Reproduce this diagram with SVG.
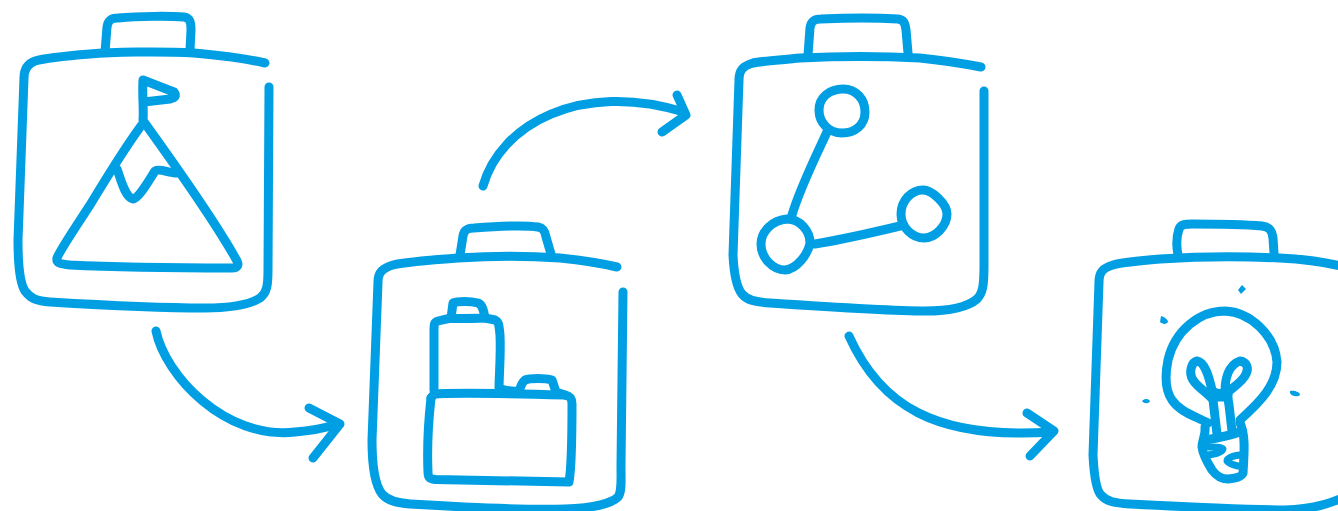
<svg xmlns="http://www.w3.org/2000/svg" width="1338" height="511" viewBox="0 0 1338 511">
<style>
.s{fill:none;stroke:#009fe3;stroke-width:9;stroke-linecap:round;stroke-linejoin:round}
.t{stroke-width:7}
.d{fill:#009fe3;stroke:none}
</style>
<rect width="1338" height="511" fill="#fff"/>
<g id="node-goal" class="s">
<path d="M265,63C240,57 215,55 194,53C160,51 110,52 90,54C65,56 45,58 35,61C27,64 24,70 24,78L18,240C18,262 19,282 25,291C31,299 37,301 50,302C100,305 170,308 205,308C235,308 252,303 260,298C267,293 268,285 268,270L269,87"/>
<path d="M105,52L107,27C108,20 111,18 118,18C140,16 170,16 184,17C190,18 191,22 191,30L190,50"/>
<path d="M144,122C130,140 110,172 90,205C75,228 60,250 57,258C56,263 60,264 70,265C110,267 190,268 232,268C238,268 239,265 237,261C220,230 175,165 144,122Z"/>
<path d="M143,120C144,110 142,95 143,80L174,92C177,96 175,98 170,99L144,102"/>
<path d="M117,169C121,180 125,197 133,199C139,198 148,182 155,171C160,168 168,173 177,173"/>
</g>
<g id="node-parts" class="s">
<path d="M617,267C600,263 580,260 560,258C530,256 490,256 458,258C430,260 405,262 393,265C383,268 378,272 378,282L372,440C372,465 375,485 382,494C388,501 397,503 410,504C460,507 530,510 565,509C595,508 612,503 618,497C622,492 621,480 621,465L623,292"/>
<path d="M460,255L463,236C464,230 467,228 474,228C500,226 525,225 538,227C543,228 545,231 546,237L551,254"/>
<path d="M434,390L434,332C434,324 434,322 438,321L451,318L453,303C458,301 470,301 478,303C483,305 484,312 485,318L495,320C499,322 499,325 500,335C501,355 499,375 499,390"/>
<path d="M451,318.500C462,318.500 475,318.500 485,318"/>
<path d="M431,398C428,425 427,450 428,472C428,478 430,479 436,479.500L569,482C572,465 572,430 572,404C572,398 570,396 565,395L556,392L552,380C545,378 530,378 525,380C521,383 521,387 519,391C512,392 508,391 501,389"/>
<path d="M431,398C433,394 436,393.500 445,393.500C480,393 530,394 565,395"/>
</g>
<g id="node-graph" class="s">
<path d="M981,67C960,63 940,60 920,58C880,56 840,56 800,58C780,60 762,61 753,63C743,66 739,70 739,80L733,255C734,275 737,288 742,294C747,300 755,302 770,303C830,307 900,311 925,311C955,311 970,305 977,299C983,293 984,285 984,265L984,91"/>
<path d="M808,55L810,28C811,21 814,19 821,19C845,18 880,18 898,19C904,20 905,23 906,30L908,53"/>
<path d="M819,110C819,97 830,89 843,89C856,89 865,99 865,112C865,125 855,133 842,133C829,133 819,123 819,110Z"/>
<path d="M761,244C761,231 773,220 787,219C800,219 810,231 810,243C808,254 797,269 785,270C773,270 761,258 761,244Z"/>
<path d="M901,214C901,201 911,190 923,190C932,190 947,204 947,214C947,226 935,238 924,238C912,238 901,227 901,214Z"/>
<path d="M827,132C815,158 800,188 792,215"/>
<path d="M815,244C845,239 875,232 900,226"/>
</g>
<g id="node-idea" class="s">
<path d="M1345,267C1325,262 1300,259 1280,258C1240,256 1190,257 1160,259C1135,261 1120,263 1113,265C1103,268 1099,272 1099,282L1093,455C1094,475 1096,490 1101,495C1107,502 1115,503 1130,504C1190,507 1260,510 1285,510C1315,509 1330,503 1345,497"/>
<path d="M1178,255C1176,245 1177,235 1179,229C1181,224 1186,224 1192,224C1215,224 1250,225 1262,226C1270,227 1272,231 1273,238L1274,253"/>
<path d="M1208,423C1195,416 1180,412 1172,400C1165,390 1165,375 1168,360C1175,330 1200,311 1225,311C1250,312 1275,335 1277,362C1277,385 1260,402 1240,420"/>
<path d="M1205,427C1206,435 1202,440 1202,447C1203,455 1207,462 1212,470C1217,477 1222,479 1228,479C1235,478 1242,477 1243,473C1244,455 1246,435 1240,423"/>
<path d="M1205,440C1218,438 1230,436 1242,431"/>
<path d="M1209,447C1215,447 1222,447 1223,449C1222,453 1214,454 1207,455" class="t"/>
<path d="M1240,455C1232,456 1227,458 1227,461C1229,464 1234,465 1238,466" class="t"/>
<path d="M1217,434L1213,400C1208,393 1198,388 1193,380C1188,372 1192,362 1197,361C1205,362 1209,377 1212,390C1214,393 1220,395 1225,392C1225,380 1228,365 1240,361C1247,362 1249,368 1246,374C1243,381 1235,386 1229,391C1227,395 1228,400 1229,405L1232,431"/>
<path d="M1213,398L1228,398" class="t"/>
<path class="d" d="M1242,285L1246,289L1241,294L1238,290Z"/>
<path class="d" d="M1161,316C1165,317 1168,320 1168,322C1166,325 1162,324 1160,322Z"/>
<path class="d" d="M1142,401C1145,398 1149,399 1150,401C1149,404 1144,404 1142,401Z"/>
<path class="d" d="M1290,391C1294,390 1300,392 1300,395C1298,397 1292,397 1290,393Z"/>
</g>
<g id="connectors" class="s">
<path d="M156,331C165,375 225,440 295,432C310,431 325,428 338,424"/>
<path d="M309,408L340,424L313,458"/>
<path d="M483,186C500,125 580,80 684,112"/>
<path d="M677,95L686,115L662,132"/>
<path d="M849,336C880,405 935,440 1052,432"/>
<path d="M1027,413L1054,431L1030,456"/>
</g>
</svg>
